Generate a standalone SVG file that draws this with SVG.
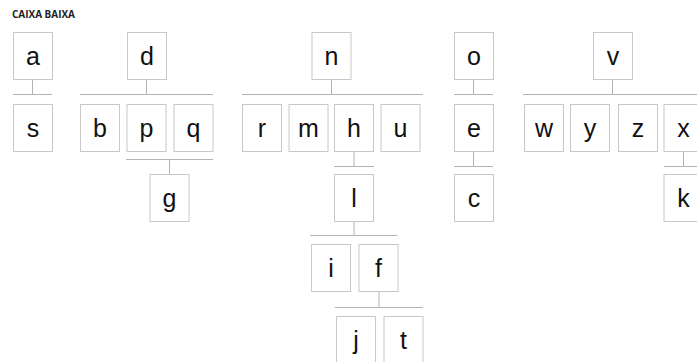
<svg xmlns="http://www.w3.org/2000/svg" width="697" height="362" viewBox="0 0 697 362">
<style>
.b{fill:#fff;stroke:#c8c8c8;stroke-width:1}
.t{font-family:"Liberation Sans",Arial,sans-serif;font-size:25px;fill:#111;text-anchor:middle}
.c{stroke:#b4b4b4;stroke-width:1;fill:none}
.h{font-family:"Open Sans","Liberation Sans",sans-serif;font-weight:700;font-size:10px;fill:#222}
</style>
<defs>
<rect id="bx" class="b" x="0" y="0" width="39" height="47"/>
</defs>
<rect width="697" height="362" fill="#fff"/>
<text class="h" x="12" y="17.5" textLength="63" lengthAdjust="spacingAndGlyphs">CAIXA BAIXA</text>
<g id="connectors">
<path class="c" d="M32.5 79.5V94M13 94.5H52"/>
<path class="c" d="M146.5 79.5V94M80 94.5H213"/>
<path class="c" d="M126 159.5H213M169.5 159.5V174"/>
<path class="c" d="M331.5 79.5V94M242 94.5H423"/>
<path class="c" d="M354 151V166.5M334 166.5H374"/>
<path class="c" d="M354 221.5V235M310 235.5H397.5"/>
<path class="c" d="M379 291.5V307.5M335 307.5H423"/>
<path class="c" d="M473.5 79.5V94M454 94.5H493"/>
<path class="c" d="M473.5 151V166.5M454 166.5H493"/>
<path class="c" d="M612.5 79.5V94M523 94.5H697"/>
<path class="c" d="M683.5 151V166.5M664 166.5H697"/>
</g>
<g id="n-a" transform="translate(13.5,32.5)"><use href="#bx"/><text class="t" x="19.5" y="32">a</text></g>
<g id="n-d" transform="translate(127.5,32.5)"><use href="#bx"/><text class="t" x="19.5" y="32">d</text></g>
<g id="n-n" transform="translate(312,32.5)"><use href="#bx"/><text class="t" x="19.5" y="32">n</text></g>
<g id="n-o" transform="translate(454.5,32.5)"><use href="#bx"/><text class="t" x="19.5" y="32">o</text></g>
<g id="n-v" transform="translate(593.5,32.5)"><use href="#bx"/><text class="t" x="19.5" y="32">v</text></g>
<g id="n-s" transform="translate(13.5,104.5)"><use href="#bx"/><text class="t" x="19.5" y="32">s</text></g>
<g id="n-b" transform="translate(80.5,104.5)"><use href="#bx"/><text class="t" x="19.5" y="32">b</text></g>
<g id="n-p" transform="translate(127,104.5)"><use href="#bx"/><text class="t" x="19.5" y="32">p</text></g>
<g id="n-q" transform="translate(174,104.5)"><use href="#bx"/><text class="t" x="19.5" y="32">q</text></g>
<g id="n-r" transform="translate(242.5,104.5)"><use href="#bx"/><text class="t" x="19.5" y="32">r</text></g>
<g id="n-m" transform="translate(289,104.5)"><use href="#bx"/><text class="t" x="19.5" y="32">m</text></g>
<g id="n-h" transform="translate(334.5,104.5)"><use href="#bx"/><text class="t" x="19.5" y="32">h</text></g>
<g id="n-u" transform="translate(381,104.5)"><use href="#bx"/><text class="t" x="19.5" y="32">u</text></g>
<g id="n-e" transform="translate(454.5,104.5)"><use href="#bx"/><text class="t" x="19.5" y="32">e</text></g>
<g id="n-w" transform="translate(524.5,104.5)"><use href="#bx"/><text class="t" x="19.5" y="32">w</text></g>
<g id="n-y" transform="translate(570.5,104.5)"><use href="#bx"/><text class="t" x="19.5" y="32">y</text></g>
<g id="n-z" transform="translate(618.5,104.5)"><use href="#bx"/><text class="t" x="19.5" y="32">z</text></g>
<g id="n-x" transform="translate(664,104.5)"><use href="#bx"/><text class="t" x="19.5" y="32">x</text></g>
<g id="n-g" transform="translate(150,174.5)"><use href="#bx"/><text class="t" x="19.5" y="32">g</text></g>
<g id="n-l" transform="translate(334.5,174.5)"><use href="#bx"/><text class="t" x="19.5" y="32">l</text></g>
<g id="n-c" transform="translate(454.5,174.5)"><use href="#bx"/><text class="t" x="19.5" y="32">c</text></g>
<g id="n-k" transform="translate(664,174.5)"><use href="#bx"/><text class="t" x="19.5" y="32">k</text></g>
<g id="n-i" transform="translate(311.5,244.5)"><use href="#bx"/><text class="t" x="19.5" y="32">i</text></g>
<g id="n-f" transform="translate(359,244.5)"><use href="#bx"/><text class="t" x="19.5" y="32">f</text></g>
<g id="n-j" transform="translate(336.5,316.5)"><use href="#bx"/><text class="t" x="19.5" y="32">j</text></g>
<g id="n-t" transform="translate(384,316.5)"><use href="#bx"/><text class="t" x="19.5" y="32">t</text></g>
</svg>
